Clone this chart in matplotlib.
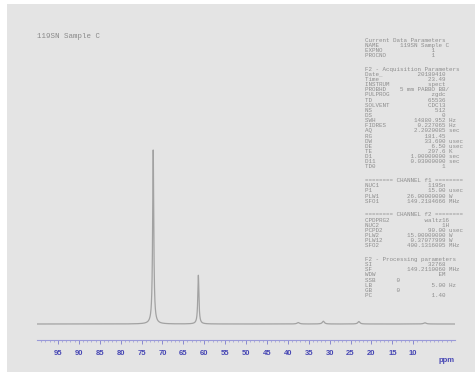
import numpy as np
import matplotlib
matplotlib.use("Agg")
import matplotlib.pyplot as plt

# 119Sn spectrum: peak list (ppm, relative intensity, half-width in ppm)
peak_ppm = [72.2, 61.4, 37.5, 31.5, 23.0, 7.2]
peak_height = [100.0, 28.0, 0.8, 1.6, 1.4, 0.7]
peak_width = [0.16, 0.16, 0.35, 0.3, 0.3, 0.35]

x_ticks = [95, 90, 85, 80, 75, 70, 65, 60, 55, 50, 45, 40, 35, 30, 25, 20, 15, 10]
ppm_range = (100, 0)

title_text = "119SN Sample C"

param_groups = [
    ["Current Data Parameters",
     "NAME      119SN Sample C",
     "EXPNO              1",
     "PROCNO             1"],
    ["F2 - Acquisition Parameters",
     "Date_          20180410",
     "Time              23.49",
     "INSTRUM           spect",
     "PROBHD    5 mm PABBO BB/",
     "PULPROG            zgdc",
     "TD                65536",
     "SOLVENT           CDCl3",
     "NS                  512",
     "DS                    0",
     "SWH           14880.952 Hz",
     "FIDRES         0.227065 Hz",
     "AQ            2.2020085 sec",
     "RG               181.45",
     "DW               33.600 usec",
     "DE                 6.50 usec",
     "TE                297.6 K",
     "D1           1.00000000 sec",
     "D11          0.03000000 sec",
     "TD0                   1"],
    ["======== CHANNEL f1 ========",
     "NUC1              119Sn",
     "P1                15.00 usec",
     "PLW1        26.00000000 W",
     "SFO1        149.2184666 MHz"],
    ["======== CHANNEL f2 ========",
     "CPDPRG2          waltz16",
     "NUC2                  1H",
     "PCPD2             90.00 usec",
     "PLW2        15.00000000 W",
     "PLW12        0.37077999 W",
     "SFO2        400.1316005 MHz"],
    ["F2 - Processing parameters",
     "SI                32768",
     "SF          149.2110060 MHz",
     "WDW                  EM",
     "SSB      0",
     "LB                 5.00 Hz",
     "GB       0",
     "PC                 1.40"],
]

W, H = 475, 372
fig = plt.figure(figsize=(W / 100, H / 100), dpi=100, facecolor="white")

# grey page area
bg = fig.add_axes([7 / W, 0, 1 - 7 / W, 1 - 4 / H])
bg.set_facecolor("#e4e4e4")
bg.set_xticks([])
bg.set_yticks([])
for s in bg.spines.values():
    s.set_visible(False)

# spectrum axes
left_px, right_px = 37, 455
bottom_px, top_px = 340, 40
ax = fig.add_axes([left_px / W, (H - bottom_px) / H,
                   (right_px - left_px) / W, (bottom_px - top_px) / H])
ax.patch.set_alpha(0)

x = np.linspace(ppm_range[0], ppm_range[1], 20000)
y = np.zeros_like(x)
for p, h, w in zip(peak_ppm, peak_height, peak_width):
    y += h * w ** 2 / ((x - p) ** 2 + w ** 2)
ax.plot(x, y, color="#a2a2a2", lw=0.9)

px_per_unit = (324 - 150) / 100.0
ymin = -(bottom_px - 324) / px_per_unit
ymax = ymin + (bottom_px - top_px) / px_per_unit
ax.set_ylim(ymin, ymax)
ax.set_xlim(*ppm_range)

for side in ["top", "right", "left"]:
    ax.spines[side].set_visible(False)
ax.spines["bottom"].set_color("#9a9ad8")
ax.spines["bottom"].set_linewidth(0.8)
ax.spines["bottom"].set_linestyle((0, (2, 1)))
ax.set_yticks([])
ax.set_xticks(x_ticks)
ax.set_xticks(np.arange(99, 0, -1), minor=True)
ax.tick_params(axis="x", which="major", length=3, width=0.7, color="#8a8ad0",
               pad=4, labelsize=5.5, labelcolor="#4646b4")
ax.tick_params(axis="x", which="minor", length=1.5, width=0.5, color="#9a9ad8")
for lab in ax.get_xticklabels():
    lab.set_fontfamily("Liberation Sans")
    lab.set_fontweight("bold")
ax.text(2, -0.055, "ppm", transform=ax.get_xaxis_transform(), ha="center",
        va="top", fontsize=5.5, color="#4646b4", fontweight="bold",
        fontfamily="Liberation Sans")

fig.text(37 / W, 1 - 37 / H, title_text, fontsize=5.4, family="Liberation Mono",
         color="#8a8a8a", va="center", ha="left")

# parameter listing
line_h = 5.15
gap_h = 8.5
ypos = 40.0
for g, group in enumerate(param_groups):
    if g > 0:
        ypos += gap_h
    for line in group:
        fig.text(365 / W, 1 - ypos / H, line, fontsize=4.2, family="Liberation Mono",
                 color="#8e8e8e", va="center", ha="left")
        ypos += line_h

fig.savefig("out.png", dpi=100, facecolor="white")
